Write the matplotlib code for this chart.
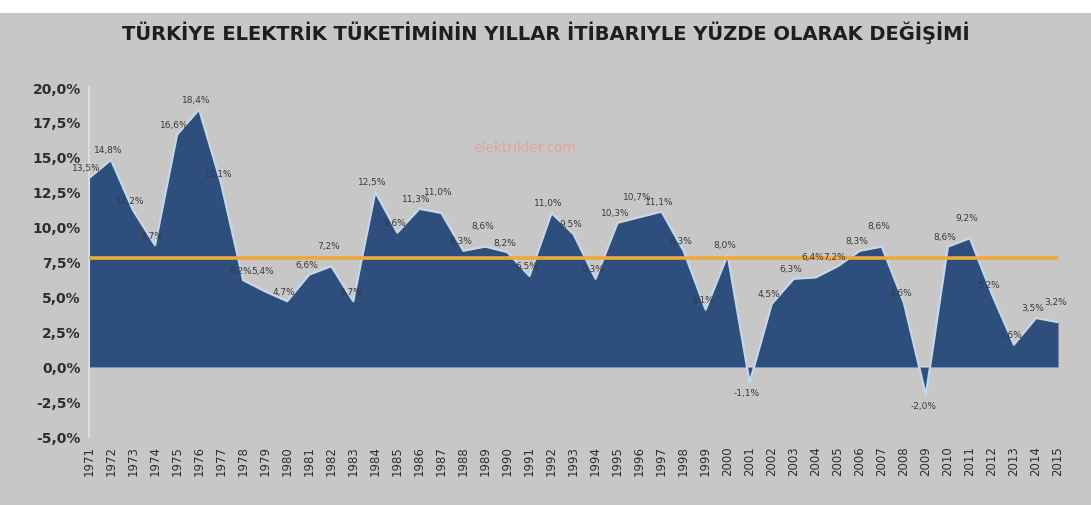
import matplotlib
matplotlib.use("Agg")
import matplotlib.pyplot as plt
from matplotlib.patches import Rectangle
from matplotlib import font_manager

# Yıllar ve yıllık elektrik tüketimi değişimi (%)
yillar = list(range(1971, 2016))
degisim = [13.5, 14.8, 11.2, 8.7, 16.6, 18.4, 13.1, 6.2, 5.4, 4.7,
           6.6, 7.2, 4.7, 12.5, 9.6, 11.3, 11.0, 8.3, 8.6, 8.2,
           6.5, 11.0, 9.5, 6.3, 10.3, 10.7, 11.1, 8.3, 4.1, 8.0,
           -1.1, 4.5, 6.3, 6.4, 7.2, 8.3, 8.6, 4.6, -2.0, 8.6,
           9.2, 5.2, 1.6, 3.5, 3.2]
ortalama = 7.8
y_ticks = [-5.0, -2.5, 0.0, 2.5, 5.0, 7.5, 10.0, 12.5, 15.0, 17.5, 20.0]

baslik = "TÜRKİYE ELEKTRİK TÜKETİMİNİN YILLAR İTİBARIYLE YÜZDE OLARAK DEĞİŞİMİ"

names = {f.name for f in font_manager.fontManager.ttflist}
narrow = "Liberation Sans Narrow" if "Liberation Sans Narrow" in names else "DejaVu Sans"

BG = "#c7c7c7"
fig = plt.figure(figsize=(10.91, 5.06), dpi=100, facecolor=BG)
fig.patches.append(Rectangle((0, 1 - 14 / 506), 1, 14 / 506, transform=fig.transFigure,
                             facecolor="white", edgecolor="none", zorder=0))

ax = fig.add_axes([89 / 1091, 1 - 438 / 506, (1058 - 89) / 1091, 350 / 506])
ax.set_facecolor(BG)

ax.fill_between(yillar, degisim, 0, color="#2e4f7e", linewidth=0, zorder=2)
ax.plot(yillar, degisim, color="#c4d8ec", linewidth=1.6, zorder=3)
ax.plot([yillar[0], yillar[-1]], [ortalama, ortalama], color="#f0a83a",
        linewidth=2.6, zorder=4)
ax.axhline(0, color="#d9dde2", linewidth=1.5, zorder=1)

# Değer etiketleri: komşu etiketle çakışırsa biraz yukarı kaydır
prev_v, prev_lift = None, 0
for x, v in zip(yillar, degisim):
    txt = f"{v:.1f}%".replace(".", ",")
    lift = 0
    if prev_v is not None and abs(v - prev_v) < 1.0 and prev_lift == 0:
        lift = 8
    dy = 4 + lift if v >= 0 else -4
    ax.annotate(txt, (x, v), xytext=(-2, dy), textcoords="offset points",
                ha="center", va="bottom" if v >= 0 else "top",
                fontsize=6.5, color="#3a3a3a", zorder=5)
    prev_v, prev_lift = v, lift

ax.text(0.45, 0.83, "elektrikler.com", transform=ax.transAxes, fontsize=10,
        color="#e4a49c", ha="center", va="center", zorder=1)

ax.set_xlim(yillar[0], yillar[-1])
ax.set_ylim(-5, 20)
ax.set_yticks(y_ticks)
ax.set_yticklabels([f"{t:.1f}%".replace(".", ",") for t in y_ticks],
                   fontsize=10, color="#2e2e2e", fontweight="bold")
ax.set_xticks(yillar)
ax.set_xticklabels([str(y) for y in yillar], rotation=90, fontsize=8.5,
                   color="#2e2e2e")
ax.tick_params(axis="both", length=0, pad=6)
for s in ["top", "right", "bottom"]:
    ax.spines[s].set_visible(False)
ax.spines["left"].set_color("#dadde0")
ax.spines["left"].set_linewidth(1.5)

fig.text(0.5, 1 - 33 / 506, baslik, ha="center", va="center", fontsize=14,
         fontweight="bold", color="#1e1e1e", family=narrow)

fig.savefig("out.png", dpi=100, facecolor=BG)
